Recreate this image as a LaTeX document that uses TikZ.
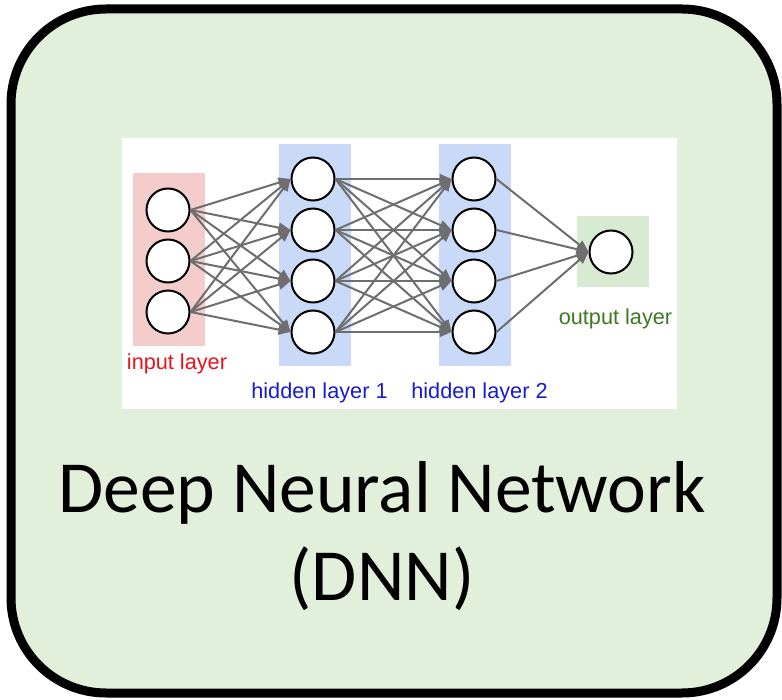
\documentclass[tikz,border=0pt]{standalone}
\usepackage{fontspec}
\setmainfont{Carlito}
\newfontfamily\labelfont{Liberation Sans}
\usetikzlibrary{arrows.meta}

\definecolor{panelgreen}{HTML}{E2EFDA}
\definecolor{inpink}{HTML}{F4CCCC}
\definecolor{hidblue}{HTML}{C9DAF8}
\definecolor{outgreen}{HTML}{D9EAD3}
\definecolor{inred}{HTML}{E8141C}
\definecolor{hidtext}{HTML}{1A1AD6}
\definecolor{outtext}{HTML}{3C7A22}
\definecolor{edgegray}{HTML}{6E6E6E}

\tikzset{
  neuron/.style={circle, draw=black, line width=2pt, fill=white,
                 minimum size=43pt, inner sep=0pt},
  layerbox/.style={draw=none, inner sep=0pt, anchor=north west},
  layerlabel/.style={font=\labelfont\fontsize{21.7}{26}\selectfont, inner sep=0pt},
  edge/.style={draw=edgegray, line width=2pt,
               -{Triangle[length=12pt,width=10pt]}},
  title/.style={font=\fontsize{73.5}{88}\selectfont, inner sep=0pt, anchor=base}
}

\begin{document}
\begin{tikzpicture}[x=1pt, y=-1pt]
  \useasboundingbox (0,0) rectangle (782,700);

  % outer panel
  \node[draw=black, line width=9pt, fill=panelgreen, rounded corners=95pt,
        minimum width=766pt, minimum height=684pt, inner sep=0pt]
        (panel) at (394,351) {};

  % white canvas behind the network
  \node[fill=white, minimum width=555pt, minimum height=271pt, inner sep=0pt]
        (canvas) at (399.5,273.5) {};

  % layer backgrounds
  \node[layerbox, fill=inpink,  minimum width=72pt, minimum height=173pt] (inbg)  at (133,173) {};
  \node[layerbox, fill=hidblue, minimum width=72pt, minimum height=222pt] (h1bg)  at (279,144) {};
  \node[layerbox, fill=hidblue, minimum width=72pt, minimum height=222pt] (h2bg)  at (439,144) {};
  \node[layerbox, fill=outgreen, minimum width=72pt, minimum height=71pt] (outbg) at (577,216) {};

  % neurons
  \foreach \i/\y in {1/210, 2/261, 3/312}
    \node[neuron] (i\i) at (168,\y) {};
  \foreach \i/\y in {1/179, 2/230, 3/281, 4/332} {
    \node[neuron] (a\i) at (313,\y) {};
    \node[neuron] (b\i) at (474,\y) {};
  }
  \node[neuron] (o) at (611,252) {};

  % connections
  \foreach \s in {1,2,3}
    \foreach \t in {1,2,3,4}
      \draw[edge] (i\s.east) -- (a\t.west);
  \foreach \s in {1,2,3,4}
    \foreach \t in {1,2,3,4}
      \draw[edge] (a\s.east) -- (b\t.west);
  \foreach \s in {1,2,3,4}
    \draw[edge] (b\s.east) -- (o.west);

  % layer labels
  \node[layerlabel, text=inred]   (lin)  at (177,364)   {input layer};
  \node[layerlabel, text=hidtext] (lh1)  at (319.5,393) {hidden layer 1};
  \node[layerlabel, text=hidtext] (lh2)  at (479.5,393) {hidden layer 2};
  \node[layerlabel, text=outtext] (lout) at (615.5,319) {output layer};

  % title
  \node[title] (t1) at (382,512) {Deep Neural Network};
  \node[title] (t2) at (382,600) {(DNN)};
\end{tikzpicture}
\end{document}
